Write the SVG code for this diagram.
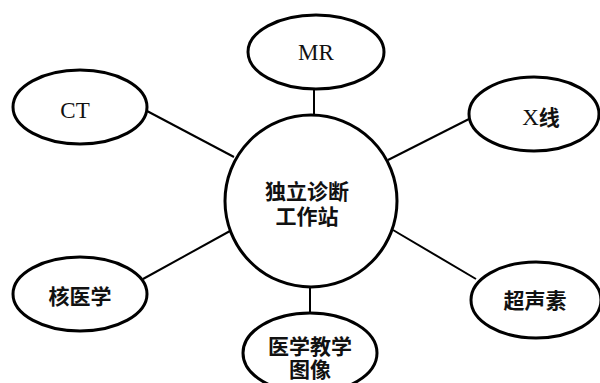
<svg xmlns="http://www.w3.org/2000/svg" width="600" height="383" viewBox="0 0 600 383">
<style>
.n{fill:#fff;stroke:#000;stroke-width:3}
.c{stroke:#000;stroke-width:2;fill:none}
.lat{font-family:"Liberation Serif",serif;font-size:23px;fill:#111;text-anchor:middle}
.cjk{font-family:"Noto Sans CJK SC",sans-serif;font-weight:bold;font-size:21px;fill:#111;text-anchor:middle}
</style>
<rect width="600" height="383" fill="#fff"/>
<g id="connectors">
<line class="c" x1="314" y1="89" x2="314" y2="116"/>
<line class="c" x1="147" y1="111" x2="234" y2="157"/>
<line class="c" x1="469" y1="119" x2="388" y2="160"/>
<line class="c" x1="143" y1="279" x2="230" y2="231"/>
<line class="c" x1="476" y1="279" x2="393" y2="230"/>
<line class="c" x1="310" y1="286" x2="310" y2="313"/>
</g>
<g id="center">
<ellipse class="n" cx="311" cy="201" rx="86" ry="86"/>
<text class="cjk"><tspan x="307" y="199">独立诊断</tspan><tspan x="307" y="224">工作站</tspan></text>
</g>
<g id="mr">
<ellipse class="n" cx="316" cy="52" rx="68" ry="37"/>
<text class="lat" x="316" y="60">MR</text>
</g>
<g id="ct">
<ellipse class="n" cx="80" cy="107" rx="67" ry="37"/>
<text class="lat" x="75" y="118">CT</text>
</g>
<g id="xray">
<ellipse class="n" cx="534" cy="114" rx="65" ry="37"/>
<text class="lat" x="541" y="125">X<tspan font-family="Noto Sans CJK SC,sans-serif" font-weight="bold" font-size="21">线</tspan></text>
</g>
<g id="nuclear">
<ellipse class="n" cx="80" cy="294" rx="67" ry="37"/>
<text class="cjk" x="80" y="304">核医学</text>
</g>
<g id="ultrasound">
<ellipse class="n" cx="536" cy="300" rx="65" ry="38"/>
<text class="cjk" x="535" y="308">超声素</text>
</g>
<g id="teaching">
<ellipse class="n" cx="310" cy="353" rx="67" ry="40"/>
<text class="cjk" font-size="20"><tspan x="310" y="354">医学教学</tspan><tspan x="310" y="377">图像</tspan></text>
</g>
</svg>
